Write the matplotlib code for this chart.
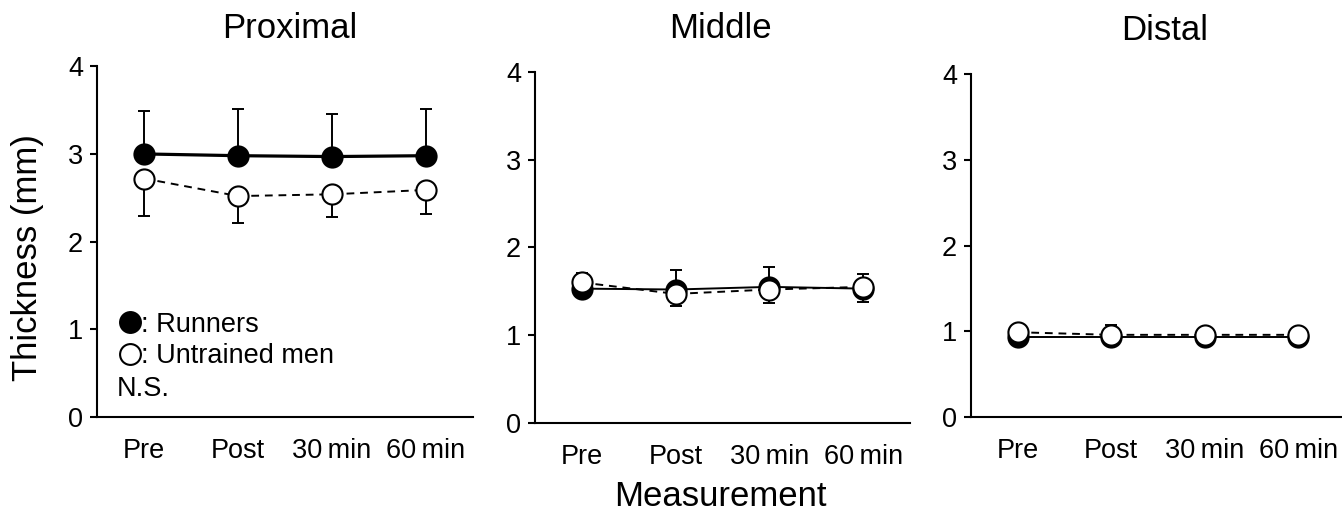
import numpy as np
import matplotlib
matplotlib.use("Agg")
import matplotlib.pyplot as plt
from matplotlib.lines import Line2D

plt.rcParams['font.family'] = ['Liberation Sans', 'DejaVu Sans']

times = ['Pre', 'Post', '30\u2009min', '60\u2009min']
panels = ['Proximal', 'Middle', 'Distal']

# mean values (mm)
runners = {
    'Proximal': [3.00, 2.98, 2.97, 2.98],
    'Middle':   [1.53, 1.52, 1.55, 1.53],
    'Distal':   [0.93, 0.93, 0.93, 0.93],
}
untrained = {
    'Proximal': [2.72, 2.52, 2.54, 2.59],
    'Middle':   [1.60, 1.47, 1.52, 1.55],
    'Distal':   [0.99, 0.96, 0.96, 0.96],
}
# SD (runners drawn upward, untrained drawn downward)
runners_sd = {
    'Proximal': [0.49, 0.53, 0.49, 0.53],
    'Middle':   [0.18, 0.22, 0.23, 0.17],
    'Distal':   [0.15, 0.14, 0.08, 0.08],
}
untrained_sd = {
    'Proximal': [0.43, 0.31, 0.26, 0.28],
    'Middle':   [0.08, 0.14, 0.15, 0.17],
    'Distal':   [0.06, 0.06, 0.06, 0.06],
}

fig = plt.figure(figsize=(13.42, 5.17), dpi=100)
rects = [
    [0.0723, 0.193, 0.2802, 0.679],
    [0.3987, 0.182, 0.2794, 0.679],
    [0.7235, 0.193, 0.2787, 0.664],
]
title_pos = [(290, 28), (720, 28), (1165, 30)]

x = np.arange(len(times))
for name, rect, tp in zip(panels, rects, title_pos):
    ax = fig.add_axes(rect)
    lw_r = 2.3 if name == 'Proximal' else 1.4
    r = np.array(runners[name])
    u = np.array(untrained[name])
    ax.errorbar(x, r, yerr=[np.zeros(4), runners_sd[name]], fmt='none',
                ecolor='black', elinewidth=1.4, capsize=4.5, capthick=1.4, zorder=2)
    ax.errorbar(x, u, yerr=[untrained_sd[name], np.zeros(4)], fmt='none',
                ecolor='black', elinewidth=1.4, capsize=4.5, capthick=1.4, zorder=2)
    ax.plot(x, r, '-', color='black', lw=lw_r, marker='o', ms=14.5,
            mfc='black', mec='black', mew=1.5, zorder=3)
    ax.plot(x, u, '--', color='black', lw=1.4, dashes=(4, 3), marker='o', ms=14.5,
            mfc='white', mec='black', mew=1.5, zorder=4)

    ax.set_xlim(-0.5, 3.5)
    ax.set_ylim(0, 4)
    ax.set_yticks([0, 1, 2, 3, 4])
    ax.set_xticks(x)
    ax.set_xticklabels(times)
    ax.spines['top'].set_visible(False)
    ax.spines['right'].set_visible(False)
    ax.spines['left'].set_linewidth(1.5)
    ax.spines['bottom'].set_linewidth(1.5)
    ax.tick_params(axis='y', length=5, width=1.5, pad=5, labelsize=19.5)
    ax.tick_params(axis='x', length=0, pad=15, labelsize=19.5)
    fig.text(tp[0] / 1342, 1 - tp[1] / 517, name, ha='center', va='center', fontsize=25)

    if name == 'Proximal':
        handles = [
            Line2D([], [], ls='none', marker='o', ms=15, mfc='black', mec='black', mew=1.5),
            Line2D([], [], ls='none', marker='o', ms=15, mfc='white', mec='black', mew=1.5),
        ]
        ax.legend(handles, [': Runners', ': Untrained men'], loc='lower left',
                  bbox_to_anchor=(0.067, 0.137), frameon=False, fontsize=19.5,
                  handlelength=0.6, handletextpad=0.1, labelspacing=0.2,
                  borderaxespad=0, borderpad=0)
        ax.text(0.053, 0.08, 'N.S.', transform=ax.transAxes, fontsize=19.5,
                ha='left', va='center')

fig.text(28 / 1342, 1 - 258 / 517, 'Thickness (mm)', rotation=90,
         ha='center', va='center', fontsize=25)
fig.text(720 / 1342, 1 - 497 / 517, 'Measurement', ha='center', va='center', fontsize=25)

fig.savefig('out.png', dpi=100)
